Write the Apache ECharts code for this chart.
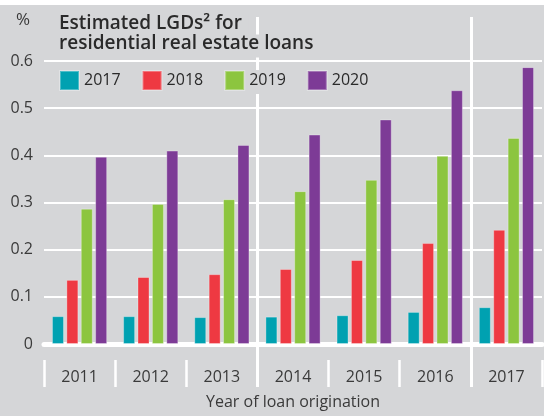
<!DOCTYPE html>
<html>
<head>
<meta charset="utf-8">
<script src="https://cdn.jsdelivr.net/npm/echarts@6/dist/echarts.min.js"></script>
<style>
html,body{margin:0;padding:0;background:#ffffff;}
#chart{position:absolute;left:0;top:5px;width:544px;height:411px;background:#d5d6d8;}
</style>
</head>
<body>
<div id="chart"></div>
<script>
const categories = ['2011','2012','2013','2014','2015','2016','2017'];
const seriesNames = ['2017','2018','2019','2020'];
const values2017 = [0.059,0.059,0.057,0.058,0.061,0.068,0.078];
const values2018 = [0.136,0.142,0.148,0.159,0.178,0.214,0.242];
const values2019 = [0.287,0.297,0.307,0.324,0.348,0.399,0.437];
const values2020 = [0.397,0.410,0.422,0.444,0.476,0.538,0.587];
const yTicks = [0,0.1,0.2,0.3,0.4,0.5,0.6];

const colors = ['#00a1b1','#ee3942','#8cc53f','#7d3b96'];
const bg = '#d5d6d8';
const font = 'Open Sans';
const allValues = [values2017, values2018, values2019, values2020];

const chart = echarts.init(document.getElementById('chart'));
chart.setOption({
  animation: false,
  color: colors,
  textStyle: {fontFamily: font},
  title: [
    {
      text: '%', left: 11, top: 2,
      textStyle: {fontSize: 17, fontWeight: 'normal', color: '#3a3a3a', fontFamily: font}
    },
    {
      text: '{a|Estimated LGDs² for}\n{b|residential real estate loans}',
      left: 52, top: 8, padding: 0,
      textStyle: {
        fontFamily: font,
        rich: {
          a: {fontSize: 19, fontWeight: 600, color: '#2a2a2a', lineHeight: 22, backgroundColor: bg, padding: [0, 7, 0, 7], fontFamily: font},
          b: {fontSize: 19, fontWeight: 600, color: '#2a2a2a', lineHeight: 22, backgroundColor: bg, padding: [0, 7, 4, 7], fontFamily: font}
        }
      }
    }
  ],
  legend: {
    data: seriesNames,
    left: 59, top: 65, padding: [0, 4, 3, 0],
    icon: 'rect', itemWidth: 19, itemHeight: 19, itemGap: 21,
    backgroundColor: bg,
    textStyle: {fontSize: 16, color: '#2a2a2a', fontFamily: font}
  },
  grid: [
    {left: 44, right: 2, top: 56, bottom: 72},
    {left: 44, right: 2, top: 12, bottom: 29}
  ],
  xAxis: [
    {
      type: 'category', gridIndex: 0, data: categories,
      axisLine: {show: true, lineStyle: {color: '#ffffff', width: 5}},
      axisTick: {show: false}, axisLabel: {show: false}, splitLine: {show: false}
    },
    {
      type: 'category', gridIndex: 1, data: categories, position: 'bottom',
      axisLine: {show: false},
      axisTick: {show: true, inside: true, length: 27, interval: 0, lineStyle: {color: '#ffffff', width: 2.5}},
      axisLabel: {show: true, inside: true, margin: 2, fontSize: 16, color: '#3a3a3a', fontFamily: font, interval: 0},
      splitLine: {show: true, interval: function (i) { return i === 3 || i === 6; }, lineStyle: {color: ['#ffffff', '#ffffff', 'rgba(0,0,0,0)'], width: 3}},
      name: 'Year of loan origination', nameLocation: 'middle', nameGap: 7,
      nameTextStyle: {fontSize: 16, color: '#3a3a3a', fontFamily: font}
    }
  ],
  yAxis: [
    {
      type: 'value', gridIndex: 0, min: 0, max: 0.6, interval: 0.1,
      axisLine: {show: false}, axisTick: {show: false},
      axisLabel: {fontSize: 16, color: '#3a3a3a', margin: 11, fontFamily: font,
        formatter: function (v) { return yTicks.indexOf(Math.round(v * 10) / 10) >= 0 ? String(Math.round(v * 10) / 10) : ''; }},
      splitLine: {show: true, lineStyle: {color: '#ffffff', width: 2}}
    },
    {type: 'value', gridIndex: 1, show: false, min: 0, max: 1}
  ],
  series: seriesNames.map(function (name, i) {
    return {
      name: name, type: 'bar', xAxisIndex: 0, yAxisIndex: 0,
      data: allValues[i], barWidth: 12, barGap: '20%',
      itemStyle: {color: colors[i], borderColor: 'rgba(255,255,255,0.3)', borderWidth: 1}
    };
  })
});
</script>
</body>
</html>
